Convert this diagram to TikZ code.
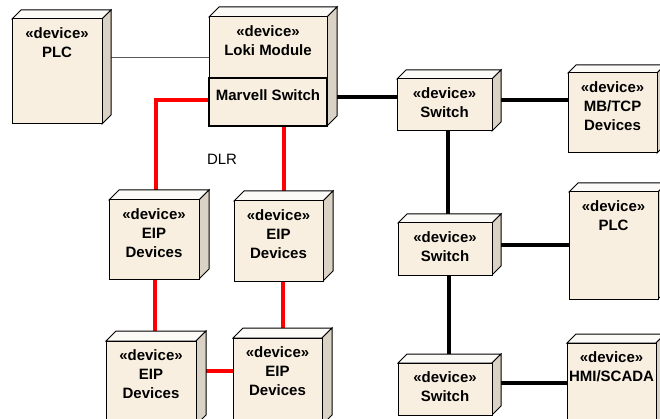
\documentclass[tikz,border=0pt]{standalone}
\usepackage{fontspec}
\setmainfont{Liberation Sans}
\begin{document}
\begin{tikzpicture}[x=1pt,y=-1pt,
  front/.style={draw=black, line width=1pt, fill=boxfill, anchor=north west, inner sep=0pt, outer sep=0pt},
  lbl/.style={anchor=north, align=center, font=\fontsize{15}{19}\selectfont\bfseries, inner sep=0pt},
  eth/.style={line width=3.6pt, black},
  dlr/.style={line width=3.6pt, red},
  thinline/.style={line width=1pt, black!65}]
\definecolor{boxfill}{RGB}{248,239,224}
\definecolor{sidefill}{RGB}{218,210,196}
\definecolor{topfill}{RGB}{252,250,246}
\pgfdeclarelayer{conn}
\pgfsetlayers{conn,main}
\useasboundingbox (0,0) rectangle (660,419);
\newcommand\devbox[7]{% name x1 y1 x2 y2 depth text
  \filldraw[fill=topfill, line width=1pt] (#2,#3) -- ++(#6,-#6) -- (#4+#6,#3-#6) -- (#4,#3) -- cycle;
  \filldraw[fill=sidefill, line width=1pt] (#4,#3) -- (#4+#6,#3-#6) -- (#4+#6,#5-#6) -- (#4,#5) -- cycle;
  \node[front, minimum width={#4pt-#2pt}, minimum height={#5pt-#3pt}] (#1) at (#2,#3) {};
  \node[lbl] (#1-t) at ([yshift=-8pt]#1.north) {#7};
}
% boxes
\devbox{plc}{12}{19}{102}{124}{9}{«device»\\PLC}
\devbox{loki}{209}{17}{327}{126}{10}{«device»\\Loki Module}
\node[front, draw, line width=1.8pt, minimum width=118pt, minimum height=48pt] (marvell) at (209,78) {};
\node[lbl] (marvell-t) at ([yshift=-11pt]marvell.north) {Marvell Switch};
\devbox{sw1}{397}{79}{492}{131}{9}{«device»\\Switch}
\devbox{mbtcp}{568}{73}{657}{153}{8}{«device»\\MB/TCP\\Devices}
\devbox{sw2}{398}{223}{492}{275}{9}{«device»\\Switch}
\devbox{plc2}{569}{192}{658}{299}{9}{«device»\\PLC}
\devbox{sw3}{398}{363}{492}{415}{9}{«device»\\Switch}
\devbox{hmi}{567}{343}{656}{425}{9}{«device»\\HMI/SCADA}
\devbox{eip1}{109}{200}{199}{279}{10}{«device»\\EIP\\Devices}
\devbox{eip2}{234}{201}{323}{281}{10}{«device»\\EIP\\Devices}
\devbox{eip3}{106}{341}{196}{425}{10}{«device»\\EIP\\Devices}
\devbox{eip4}{233}{338}{322}{425}{10}{«device»\\EIP\\Devices}
\node[font=\fontsize{15}{17}\selectfont, inner sep=0pt] (dlrlbl) at (222,159) {DLR};
% connectors
\begin{pgfonlayer}{conn}
\coordinate (a1) at (209,58);
\draw[thinline] (plc.east |- a1) -- (a1);
\coordinate (a2) at (397,97);
\draw[eth] (marvell.east |- a2) -- (a2);
\coordinate (a3) at (568,100);
\draw[eth] (sw1.east |- a3) -- (a3);
\coordinate (a4) at (448,131);
\draw[eth] (a4) -- (a4 |- sw2.north);
\coordinate (a5) at (569,245);
\draw[eth] (sw2.east |- a5) -- (a5);
\coordinate (a6) at (449,275);
\draw[eth] (a6) -- (a6 |- sw3.north);
\coordinate (a7) at (567,383);
\draw[eth] (sw3.east |- a7) -- (a7);
\coordinate (r1) at (156,100);
\draw[dlr] (marvell.west |- r1) -- (r1) -- (r1 |- eip1.north);
\coordinate (r2) at (284,126);
\draw[dlr] (r2) -- (r2 |- eip2.north);
\coordinate (r3) at (155,279);
\draw[dlr] (r3) -- (r3 |- eip3.north);
\coordinate (r4) at (283,281);
\draw[dlr] (r4) -- (r4 |- eip4.north);
\coordinate (r5) at (196,371);
\draw[dlr] (r5) -- (eip4.west |- r5);
\end{pgfonlayer}
\end{tikzpicture}
\end{document}
